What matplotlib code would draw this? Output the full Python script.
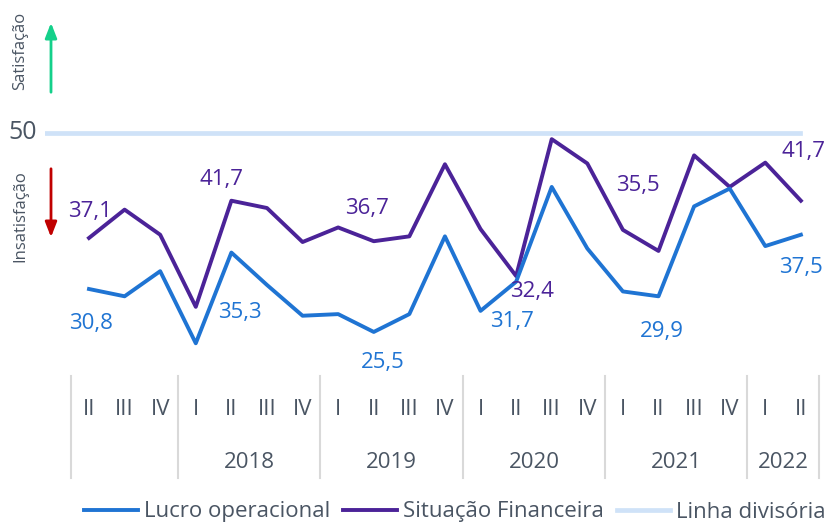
import matplotlib
matplotlib.use("Agg")
import matplotlib.pyplot as plt

plt.rcParams['font.family'] = ['Open Sans', 'DejaVu Sans']

# Data
quarters = ['II', 'III', 'IV',
            'I', 'II', 'III', 'IV',
            'I', 'II', 'III', 'IV',
            'I', 'II', 'III', 'IV',
            'I', 'II', 'III', 'IV',
            'I', 'II']
years = ['', '2018', '2019', '2020', '2021', '2022']
year_sizes = [3, 4, 4, 4, 4, 2]

lucro = [30.8, 29.9, 33.0, 24.1, 35.3, 31.3, 27.5, 27.7, 25.5, 27.7, 37.3,
         28.1, 31.7, 43.4, 35.8, 30.5, 29.9, 41.0, 43.2, 36.1, 37.5]
situacao = [37.1, 40.6, 37.5, 28.6, 41.7, 40.8, 36.6, 38.4, 36.7, 37.3, 46.2,
            38.2, 32.4, 49.3, 46.3, 38.1, 35.5, 47.3, 43.4, 46.4, 41.7]
divisoria = 50

# label offsets (pixels) for the points that carry a value label
lucro_labels = {0: (2, -34), 4: (9, -60), 8: (9, -31), 12: (-4, -40), 16: (3, -35), 20: (0, -33)}
sit_labels = {0: (1, 26), 4: (-10, 21), 8: (-7, 33), 12: (16, -15), 16: (-21, 65), 20: (3, 49)}

c_lucro = '#1f74d3'
c_sit = '#4b2398'
c_div = '#cfe2f8'
c_text = '#4a5563'
c_sep = '#d9d9d9'

W, H = 829, 522
fig = plt.figure(figsize=(W / 100, H / 100), dpi=100)
ax = fig.add_axes([45 / W, (H - 376) / H, (W - 45) / W, 376 / H])
ax.set_xlim(-1.236, 20.79)
ax.set_ylim(20.06, 66.48)
ax.axis('off')

x = list(range(len(quarters)))

ax.axhline(divisoria, xmin=0, xmax=(800 - 45) / (W - 45), color=c_div, lw=3.4,
           label='Linha divisória', zorder=1)
ln_l, = ax.plot(x, lucro, color=c_lucro, lw=2.8, label='Lucro operacional', zorder=3)
ln_s, = ax.plot(x, situacao, color=c_sit, lw=2.8, label='Situação Financeira', zorder=2)

fmt = lambda v: f"{v:.1f}".replace('.', ',')
for i, (dx, dy) in lucro_labels.items():
    ax.annotate(fmt(lucro[i]), (x[i], lucro[i]), xytext=(dx, dy), textcoords='offset pixels',
                ha='center', va='center', fontsize=16, color=c_lucro)
for i, (dx, dy) in sit_labels.items():
    ax.annotate(fmt(situacao[i]), (x[i], situacao[i]), xytext=(dx, dy), textcoords='offset pixels',
                ha='center', va='center', fontsize=16, color=c_sit)

# hierarchical x axis
tr = ax.get_xaxis_transform()
for i, q in enumerate(quarters):
    ax.text(x[i], -0.0904, q, transform=tr, ha='center', va='center',
            fontsize=16, color=c_text, clip_on=False)
start = 0
for yr, n in zip(years, year_sizes):
    ax.plot([start - 0.5, start - 0.5], [0, -0.271], transform=tr, color=c_sep,
            lw=1.5, clip_on=False)
    if yr:
        ax.text(start + (n - 1) / 2, -0.231, yr, transform=tr, ha='center', va='center',
                fontsize=16, color=c_text, clip_on=False)
    start += n
ax.plot([start - 0.5, start - 0.5], [0, -0.271], transform=tr, color=c_sep,
        lw=1.5, clip_on=False)

# left side: 50 and arrows
fig.text(37 / W, 1 - 133 / H, '50', ha='right', va='center', fontsize=18, color=c_text)
fig.text(20 / W, 1 - 51 / H, 'Satisfação', rotation=90, ha='center', va='center',
         fontsize=12, color=c_text)
fig.text(20 / W, 1 - 216 / H, 'Insatisfação', rotation=90, ha='center', va='center',
         fontsize=12, color=c_text)
ax.annotate('', xy=(51, H - 20), xycoords='figure pixels', xytext=(51, H - 95),
            textcoords='figure pixels',
            arrowprops=dict(arrowstyle='-|>,head_length=0.9,head_width=0.35',
                            color='#14d08a', lw=2))
ax.annotate('', xy=(51, H - 240), xycoords='figure pixels', xytext=(51, H - 166),
            textcoords='figure pixels',
            arrowprops=dict(arrowstyle='-|>,head_length=0.9,head_width=0.35',
                            color='#c00000', lw=2))

fig.legend(handles=[ln_l, ln_s, ax.lines[0]], loc='center', ncol=3,
           bbox_to_anchor=(455 / W, 1 - 512 / H), frameon=False, fontsize=16,
           handlelength=2.4, handletextpad=0.27, columnspacing=0.6, borderpad=0,
           labelcolor=c_text)

fig.savefig('out.png', dpi=100)
